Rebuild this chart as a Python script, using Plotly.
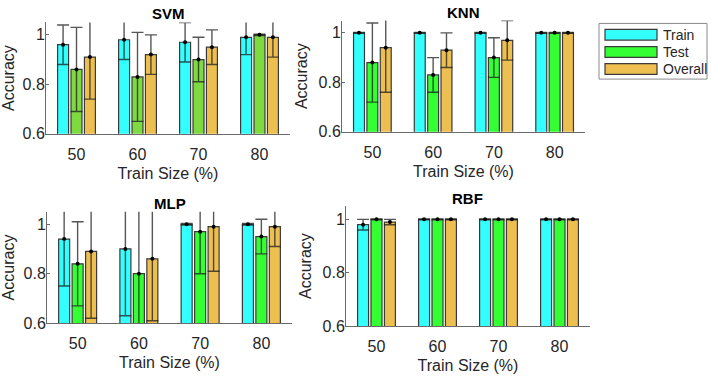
import plotly.graph_objects as go

# ---------------- data ----------------
train_sizes = ["50", "60", "70", "80"]
series_names = ["Train", "Test", "Overall"]

svm_train = [0.96, 0.98, 0.97, 0.99]
svm_train_std = [0.08, 0.08, 0.08, 0.07]
svm_test = [0.86, 0.83, 0.90, 1.00]
svm_test_std = [0.17, 0.18, 0.09, 0.003]
svm_overall = [0.91, 0.92, 0.95, 0.99]
svm_overall_std = [0.17, 0.08, 0.07, 0.08]

knn_train = [1.00, 1.00, 1.00, 1.00]
knn_train_std = [0.002, 0.002, 0.002, 0.002]
knn_test = [0.88, 0.83, 0.90, 1.00]
knn_test_std = [0.16, 0.07, 0.08, 0.002]
knn_overall = [0.94, 0.93, 0.97, 1.00]
knn_overall_std = [0.18, 0.07, 0.08, 0.002]

mlp_train = [0.94, 0.90, 1.00, 1.00]
mlp_train_std = [0.19, 0.27, 0.003, 0.003]
mlp_test = [0.84, 0.80, 0.97, 0.95]
mlp_test_std = [0.17, 0.30, 0.17, 0.07]
mlp_overall = [0.89, 0.86, 0.99, 0.99]
mlp_overall_std = [0.27, 0.25, 0.18, 0.08]

rbf_train = [0.98, 1.00, 1.00, 1.00]
rbf_train_std = [0.02, 0.002, 0.002, 0.002]
rbf_test = [1.00, 1.00, 1.00, 1.00]
rbf_test_std = [0.002, 0.002, 0.002, 0.002]
rbf_overall = [0.99, 1.00, 1.00, 1.00]
rbf_overall_std = [0.01, 0.002, 0.002, 0.002]

models = [
    ("SVM", [svm_train, svm_test, svm_overall], [svm_train_std, svm_test_std, svm_overall_std]),
    ("KNN", [knn_train, knn_test, knn_overall], [knn_train_std, knn_test_std, knn_overall_std]),
    ("MLP", [mlp_train, mlp_test, mlp_overall], [mlp_train_std, mlp_test_std, mlp_overall_std]),
    ("RBF", [rbf_train, rbf_test, rbf_overall], [rbf_train_std, rbf_test_std, rbf_overall_std]),
]

# ---------------- style ----------------
W, H = 711, 381
FONT = "Liberation Sans, Arial, sans-serif"
TXT = "#262626"
AXC = "#6a6a6a"
colors = ["#33FFFF", "#33FF33", "#EDBF50"]
svm_test_color = "#7DDB40"
edge = "#3a3a3a"

# axes pixel boxes: (left, right, top, bottom)
boxes = [(46, 290, 23, 137), (342, 585, 21, 135), (47, 292, 217, 331), (346, 590, 211, 334)]
title_y = [14, 13, 208, 203]

bar_w = 0.18
step = 0.22

fig = go.Figure()

for i, (name, means, stds) in enumerate(models):
    xa = "x" if i == 0 else f"x{i+1}"
    ya = "y" if i == 0 else f"y{i+1}"
    for k, sname in enumerate(series_names):
        xs = [j + 1 + (k - 1) * step for j in range(len(train_sizes))]
        col = colors[k]
        if name == "SVM" and k == 1:
            col = svm_test_color
        fig.add_trace(go.Bar(
            x=xs, y=means[k], width=bar_w, name=sname, showlegend=False,
            marker=dict(color=col, line=dict(color=edge, width=1.2)),
            error_y=dict(type="data", array=stds[k], visible=True,
                         color="rgba(30,30,30,0.75)", thickness=1.4, width=6),
            xaxis=xa, yaxis=ya,
        ))
        fig.add_trace(go.Scatter(
            x=xs, y=means[k], mode="markers", showlegend=False,
            marker=dict(color="black", size=4), xaxis=xa, yaxis=ya,
            hoverinfo="skip",
        ))

    l, r, t, b = boxes[i]
    xdom = [l / W, r / W]
    ydom = [1 - b / H, 1 - t / H]
    sfx = "" if i == 0 else str(i + 1)
    fig.layout["xaxis" + sfx] = dict(
        domain=xdom, range=[0.5, 4.5], tickvals=[1, 2, 3, 4], ticktext=train_sizes,
        showline=True, linecolor=AXC, linewidth=1, ticks="", showgrid=False, zeroline=False,
        anchor=ya, tickfont=dict(size=16, color=TXT, family=FONT), ticklabelstandoff=6,
        title=dict(text="Train Size (%)", font=dict(size=16, color=TXT, family=FONT), standoff=5),
    )
    fig.layout["yaxis" + sfx] = dict(
        domain=ydom, range=[0.6, 1.05], tickvals=[0.6, 0.8, 1.0], ticktext=["0.6", "0.8", "1"],
        showline=True, linecolor=AXC, linewidth=1, ticks="inside", ticklen=3, tickcolor=AXC,
        showgrid=False, zeroline=False, anchor=xa, ticklabelstandoff=-3,
        tickfont=dict(size=16, color=TXT, family=FONT),
        title=dict(text="Accuracy", font=dict(size=16, color=TXT, family=FONT), standoff=6),
    )
    fig.add_annotation(
        text=f"<b>{name}</b>", x=(l + r) / 2 / W, y=1 - title_y[i] / H, xref="paper", yref="paper",
        xanchor="center", yanchor="middle", showarrow=False,
        font=dict(size=15, color="black", family=FONT),
    )

# ---------------- legend (drawn box) ----------------
lx0, lx1, ly0, ly1 = 599, 707, 24, 81
fig.add_shape(type="rect", xref="paper", yref="paper",
              x0=lx0 / W, x1=lx1 / W, y0=1 - ly1 / H, y1=1 - ly0 / H,
              line=dict(color="#8a8a8a", width=1), fillcolor="white")
row_y = [35.5, 53.3, 70.7]
for k, sname in enumerate(series_names):
    cy = row_y[k]
    fig.add_shape(type="rect", xref="paper", yref="paper",
                  x0=605 / W, x1=657 / W, y0=1 - (cy + 5.5) / H, y1=1 - (cy - 5.5) / H,
                  line=dict(color=edge, width=1.2), fillcolor=colors[k])
    fig.add_annotation(text=sname, x=661 / W, y=1 - cy / H, xref="paper", yref="paper",
                       xanchor="left", yanchor="middle", showarrow=False,
                       font=dict(size=14, color=TXT, family=FONT))

fig.update_layout(
    width=W, height=H, margin=dict(l=0, r=0, t=0, b=0),
    paper_bgcolor="white", plot_bgcolor="white",
    barmode="overlay", showlegend=False,
    font=dict(family=FONT, color=TXT),
)

fig.write_html("out.html")
